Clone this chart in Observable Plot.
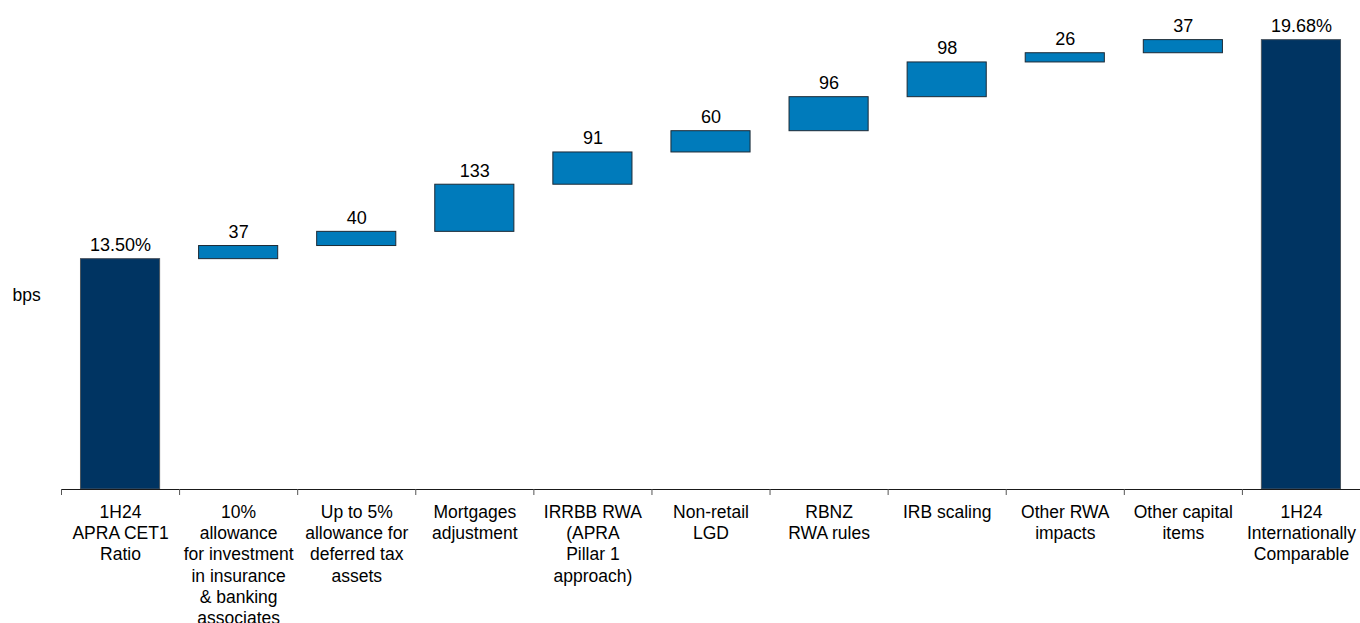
<!DOCTYPE html>
<html>
<head>
<meta charset="utf-8">
<script src="https://cdn.jsdelivr.net/npm/d3@7"></script>
<script src="https://cdn.jsdelivr.net/npm/@observablehq/plot@0.6"></script>
<style>
  html, body { margin: 0; padding: 0; background: #fff; }
  #chart { width: 1360px; height: 623px; overflow: hidden; }
</style>
</head>
<body>
<div id="chart"></div>
<script>
const categories = [
  "1H24\nAPRA CET1\nRatio",
  "10%\nallowance\nfor investment\nin insurance\n& banking\nassociates",
  "Up to 5%\nallowance for\ndeferred tax\nassets",
  "Mortgages\nadjustment",
  "IRRBB RWA\n(APRA\nPillar 1\napproach)",
  "Non-retail\nLGD",
  "RBNZ\nRWA rules",
  "IRB scaling",
  "Other RWA\nimpacts",
  "Other capital\nitems",
  "1H24\nInternationally\nComparable"
];
const startValue = 13.50;   // %
const endValue = 19.68;     // %
const stepsBps = [37, 40, 133, 91, 60, 96, 98, 26, 37];
const axisLabel = "bps";

// build waterfall table
const rows = [];
rows.push({i: 0, lo: 7, hi: startValue, label: startValue.toFixed(2) + "%", kind: "total"});
let run = startValue;
stepsBps.forEach((s, k) => {
  const lo = run, hi = run + s / 100;
  rows.push({i: k + 1, lo, hi, label: String(s), kind: "step"});
  run = hi;
});
rows.push({i: categories.length - 1, lo: 7, hi: endValue, label: endValue.toFixed(2) + "%", kind: "total"});

const H = 623, MB = 134, MT = 0;
const pxPerPct = 35.44;
const yMin = 7;
const yMax = yMin + (H - MB - MT) / pxPerPct;

const chart = Plot.plot({
  width: 1360,
  height: H,
  marginTop: MT,
  marginBottom: MB,
  marginLeft: 61,
  marginRight: 0,
  style: {fontFamily: "'Liberation Sans', Arial, sans-serif", fontSize: "17px", color: "#000", background: "#fff", overflow: "visible"},
  x: {domain: [0, categories.length], axis: null},
  y: {domain: [yMin, yMax], axis: null},
  marks: [
    Plot.rect(rows, {
      x1: d => d.i + 0.165, x2: d => d.i + 0.835,
      y1: "lo", y2: "hi",
      fill: d => d.kind === "total" ? "#003462" : "#007BBB",
      stroke: d => d.kind === "total" ? "#4a5560" : "#1c2a36",
      strokeWidth: 1
    }),
    Plot.text(rows, {
      x: d => d.i + 0.5, y: "hi", text: "label",
      lineAnchor: "bottom", dy: -8, fontSize: 18, fill: "#000"
    }),
    Plot.ruleY([yMin], {stroke: "#1a1a1a", strokeWidth: 1}),
    Plot.axisX(d3.range(categories.length + 1), {
      tickSize: 6, tickFormat: () => "", stroke: "#555", anchor: "bottom"
    }),
    Plot.text(categories, {
      x: (d, i) => i + 0.5, y: () => yMin, text: d => d,
      lineAnchor: "top", dy: 13, fontSize: 17.5, lineHeight: 1.22, fill: "#000"
    }),
    Plot.text([axisLabel], {
      frameAnchor: "left", dx: -49, dy: 50, textAnchor: "start", fontSize: 17.5, fill: "#000"
    })
  ]
});
document.getElementById("chart").appendChild(chart);
</script>
</body>
</html>
